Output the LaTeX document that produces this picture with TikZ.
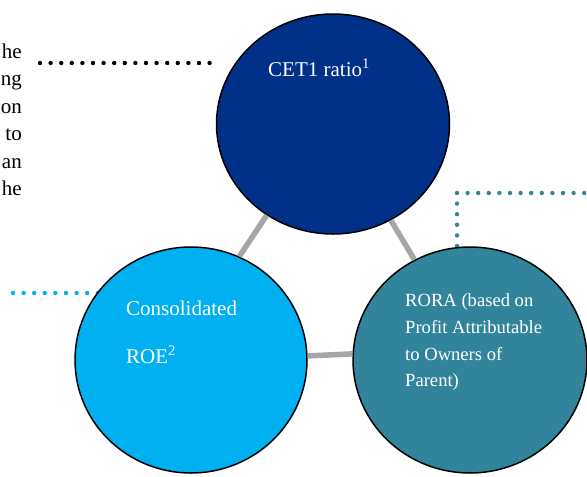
\documentclass[tikz,border=0pt]{standalone}
\usepackage{fontspec}
\setmainfont{Liberation Serif}
\usetikzlibrary{shapes.geometric, backgrounds, calc}
\definecolor{cetblue}{RGB}{0,48,135}
\definecolor{roeblue}{RGB}{0,176,240}
\definecolor{rorateal}{RGB}{49,132,155}
\definecolor{linkgray}{RGB}{166,166,166}
\tikzset{
  ratio/.style={ellipse, draw=black, line width=1.5pt, inner sep=0pt},
  ratiotext/.style={text=white, inner sep=0pt, align=left, anchor=base west},
  dotline/.style={line width=4.4pt, line cap=round, dash pattern=on 0pt off 10.6pt},
  linker/.style={draw=linkgray, line width=5.5pt}
}
\begin{document}
\begin{tikzpicture}[x=1pt,y=-1pt]
  \useasboundingbox (0,0) rectangle (587,477);

  \node[ratio, fill=cetblue, minimum width=233pt, minimum height=220pt] (cet) at (333,124) {};
  \node[ratio, fill=roeblue, minimum width=232pt, minimum height=226pt] (roe) at (191,360) {};
  \node[ratio, fill=rorateal, minimum width=234pt, minimum height=226pt] (rora) at (470,360) {};

  \node[ratiotext, font=\fontsize{21}{25}\selectfont] (cettext) at (268,76) {CET1 ratio\textsuperscript{1}};
  \node[ratiotext, font=\fontsize{21}{48}\selectfont] (roetext) at (126,363) {Consolidated\\ROE\textsuperscript{2}};
  \node[ratiotext, font=\fontsize{18.6}{26.7}\selectfont] (roratext) at (405,386.7) {RORA (based on\\Profit Attributable\\to Owners of\\Parent)};

  \foreach \w [count=\i] in {he,ng,on,to,an,he}
    \node[anchor=base east, inner sep=0pt, font=\fontsize{21}{25}\selectfont] (frag\i) at (22,{58+27.5*(\i-1)}) {\w};

  \coordinate (cetnote) at (40,63);
  \coordinate (roenote) at (13,293);
  \coordinate (roranote) at (590,193);
  \coordinate (rorabend) at (457,193);

  \begin{scope}[on background layer]
    \draw[dotline, black] (cetnote) -- (cetnote -| cet.west);
    \draw[dotline, roeblue] (roenote) -- (roenote -| roe.center);
    \draw[dotline, rorateal] (rorabend) -- (roranote) (rorabend) -- (rorabend |- rora.center);
  \end{scope}

  \draw[linker] (cet.234) -- (roe.65);
  \draw[linker] (cet.301) -- (rora.119);
  \draw[linker] (roe.2.6) -- (rora.177.6);
\end{tikzpicture}
\end{document}
